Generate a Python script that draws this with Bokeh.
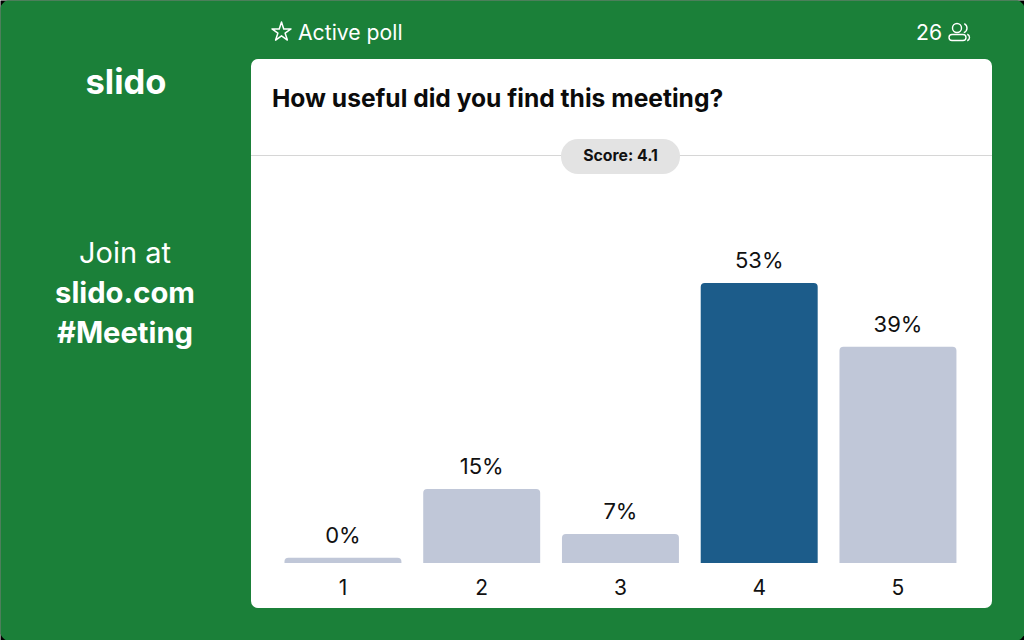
from bokeh.plotting import figure
from bokeh.models import Range1d, LinearAxis, FixedTicker
from bokeh.core.properties import value
from bokeh.embed import file_html
from bokeh.resources import INLINE

categories = [1, 2, 3, 4, 5]
bar_values = [1.0, 14.0, 5.5, 53.0, 40.9]
pct_labels = ["0%", "15%", "7%", "53%", "39%"]
bar_colors = ["#c0c7d8", "#c0c7d8", "#c0c7d8", "#1c5c8a", "#c0c7d8"]
question = "How useful did you find this meeting?"
score_text = "Score: 4.1"
active_text = "Active poll"
participants = "26"

GREEN = "#1b8039"
FONT = value("Inter")

p = figure(width=1024, height=640, output_backend="svg", toolbar_location=None,
           x_axis_type=None, y_axis_type=None, min_border=0,
           x_range=Range1d(-1.468, 5.912), y_range=Range1d(-14.68, 106.46))
p.outline_line_color = None
p.background_fill_color = "#000000"
p.border_fill_color = "#000000"
p.grid.visible = False
p.extra_x_ranges["px"] = Range1d(0.5, 1024.5)
p.extra_y_ranges["py"] = Range1d(640.5, 0.5)
PX = dict(x_range_name="px", y_range_name="py")


def label(x, y, s, size, color="#ffffff", bold=False, align="center"):
    p.text(x=[x], y=[y], text=[s], text_font=FONT, text_font_size=f"{size}px",
           text_color=color, text_align=align, text_baseline="middle",
           text_font_style="bold" if bold else "normal", **PX)


# page and card
p.quad(left=[-1], right=[1026], top=[-1], bottom=[642], fill_color=GREEN, line_color=None,
       border_radius=14, **PX)
p.quad(left=[251], right=[992], top=[59], bottom=[608], fill_color="#ffffff", line_color=None,
       border_radius=7, **PX)
p.line(x=[251, 992], y=[155.5, 155.5], line_color="#d6d6d6", line_width=1, **PX)
p.quad(left=[561], right=[680], top=[139], bottom=[174], fill_color="#e3e3e3", line_color=None,
       border_radius=17, **PX)

# bars
p.vbar(x=categories, top=bar_values, bottom=0, width=0.843, fill_color=bar_colors, line_color=None,
       border_radius=(4, 4, 0, 0))
p.text(x=categories, y=bar_values, text=pct_labels, y_offset=-10, text_font=FONT,
       text_font_size="22px", text_color="#111111", text_align="center", text_baseline="bottom")

axis = LinearAxis(fixed_location=0, ticker=FixedTicker(ticks=categories))
axis.major_tick_line_color = None
axis.minor_tick_line_color = None
axis.axis_line_color = None
axis.major_label_text_font = "Inter"
axis.major_label_text_font_size = "21px"
axis.major_label_text_color = "#111111"
axis.major_label_standoff = 10
p.add_layout(axis, "below")

# texts
label(272, 98, question, 24.6, "#0b0b0b", bold=True, align="left")
label(620.5, 155.5, score_text, 15.8, "#111111", bold=True)
label(298, 32, active_text, 21.2, align="left")
label(916, 32, participants, 21.2, align="left")
label(126, 81, "slido", 34.5, bold=True)
label(125, 252.5, "Join at", 29)
label(125, 292.5, "slido.com", 29.2, bold=True)
label(125, 332.5, "#Meeting", 29.2, bold=True)

# star icon
p.scatter(x=[281.5], y=[32], marker="star", size=20, fill_color=None, line_color="#ffffff",
          line_width=1.5, line_join="round", **PX)

# people icon
W = dict(line_color="#ffffff", line_width=1.4, **PX)
p.circle(x=[957], y=[28], radius=4.5, fill_color=None, **W)
p.quad(left=[949], right=[966], top=[34.5], bottom=[40.5], fill_color=None, border_radius=3, **W)
p.arc(x=[962], y=[28], radius=5, start_angle=-1.2, end_angle=1.1, **W)
p.arc(x=[966], y=[37.5], radius=3.5, start_angle=-1.2, end_angle=1.2, **W)

TEMPLATE = """<!DOCTYPE html>
<html lang="en"><head><meta charset="utf-8"><title>{{ title }}</title>
{{ bokeh_css }}{{ bokeh_js }}
<style>html,body{margin:0;padding:0;background:#000;overflow:hidden}</style>
</head><body>{{ plot_div }}{{ plot_script }}</body></html>"""

open("out.html", "w").write(file_html(p, INLINE, template=TEMPLATE))
